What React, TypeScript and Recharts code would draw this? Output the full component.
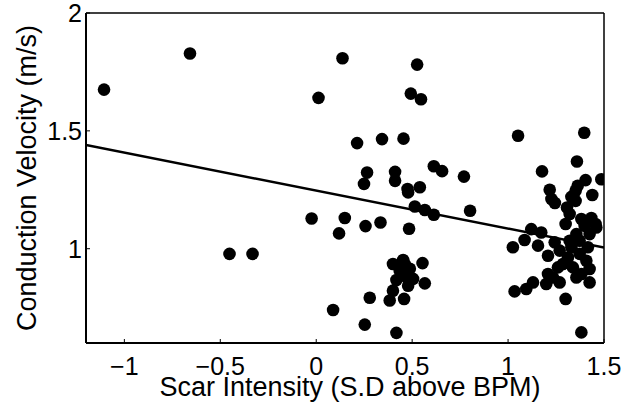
import React from 'react'
import {
  ScatterChart,
  Scatter,
  XAxis,
  YAxis,
  ZAxis
} from 'recharts'

// scar intensity (S.D above BPM) for each site
const scarIntensity = [
  -1.106, -0.658, -0.452, -0.332, 0.012, 0.137, 0.526, 0.493, 0.546, 0.213,
  0.343, 0.455, 1.052, 1.397, 0.265, 0.249, 0.411, 0.411, 0.476, 0.479,
  0.54, 0.613, 0.656, 0.77, -0.024, 0.149, 0.119, 0.257, 0.335, 0.484,
  0.514, 0.566, 0.613, 0.802, 0.4, 0.453, 0.461, 0.554, 0.418, 0.47,
  0.505, 0.479, 0.566, 0.4, 0.383, 0.458, 0.279, 0.088, 0.253, 0.418,
  0.435, 0.488,
  1.177, 1.359, 1.486, 1.404, 1.363, 1.352, 1.439, 1.217, 1.226, 1.244,
  1.33, 1.352, 1.307, 1.321, 1.382, 1.434, 1.456, 1.3, 1.121, 1.173,
  1.086, 1.025, 1.156, 1.208, 1.243, 1.269, 1.356, 1.425, 1.33, 1.373,
  1.408, 1.338, 1.286, 1.382, 1.425, 1.356, 1.416, 1.425, 1.46, 1.26,
  1.312, 1.034, 1.095, 1.13, 1.199, 1.208, 1.234, 1.269, 1.3, 1.382,
  1.373, 1.321, 1.399
]

// conduction velocity (m/s) for each site
const conductionVelocity = [
  1.675, 1.828, 0.978, 0.978, 1.64, 1.808, 1.781, 1.658, 1.634, 1.448,
  1.465, 1.467, 1.479, 1.492, 1.323, 1.275, 1.326, 1.288, 1.253, 1.239,
  1.261, 1.35, 1.329, 1.306, 1.128, 1.13, 1.065, 1.096, 1.111, 1.085,
  1.179, 1.164, 1.144, 1.161, 0.935, 0.952, 0.935, 0.939, 0.867, 0.881,
  0.872, 0.843, 0.853, 0.822, 0.78, 0.787, 0.792, 0.74, 0.678, 0.643,
  0.907, 0.915,
  1.328, 1.37, 1.295, 1.291, 1.267, 1.246, 1.228, 1.25, 1.211, 1.194,
  1.22, 1.203, 1.175, 1.147, 1.126, 1.13, 1.105, 1.105, 1.083, 1.069,
  1.037, 1.006, 1.013, 0.97, 1.027, 0.992, 1.062, 1.062, 1.006, 0.978,
  0.949, 0.921, 0.935, 0.893, 0.857, 0.878, 1.006, 0.914, 1.09, 0.921,
  0.963, 0.819, 0.829, 0.857, 0.85, 0.893, 0.878, 0.857, 0.787, 0.645,
  1.034, 1.034, 1.097
]

// least squares fit, end points
const fitX = [-1.2, 1.5]
const fitY = [1.44, 1.005]

const xTicks = [-1, -0.5, 0, 0.5, 1, 1.5]
const yTicks = [1, 1.5, 2]

const points = scarIntensity.map((x, i) => ({ x, y: conductionVelocity[i] }))
const fitLine = fitX.map((x, i) => ({ x, y: fitY[i] }))

const font = '"Liberation Sans", Arial, Helvetica, sans-serif'
const titleStyle = { fill: '#000', fontSize: 27, fontFamily: font }
const fmt = (v: number) => String(v).replace('-', '\u2212')

const XTick = (props: any) => (
  <text x={props.x} y={props.y} dy="0.71em" textAnchor="middle" fill="#000" fontSize={25} fontFamily={font}>
    {fmt(props.payload.value)}
  </text>
)

const YTick = (props: any) => (
  <text x={props.x} y={props.y} dy="0.355em" textAnchor="end" fill="#000" fontSize={25} fontFamily={font}>
    {fmt(props.payload.value)}
  </text>
)

const Dot = (props: any) => <circle cx={props.cx} cy={props.cy} r={6.3} fill="#000" />

const App = () => {
  return (
    <div style={{ position: 'fixed', left: 0, top: 0, background: '#fff', fontFamily: font }}>
      <ScatterChart
        width={639}
        height={406}
        margin={{ top: 12, right: 34, bottom: 0, left: 0 }}
      >
        <XAxis
          type="number"
          dataKey="x"
          xAxisId="b"
          domain={[-1.2, 1.5]}
          ticks={xTicks}
          allowDataOverflow
          height={63}
          tickSize={-4}
          tickMargin={18}
          tick={<XTick />}
          axisLine={{ stroke: '#000', strokeWidth: 2 }}
          tickLine={{ stroke: '#000', strokeWidth: 1 }}
          label={{
            value: 'Scar Intensity (S.D above BPM)',
            position: 'insideBottom',
            offset: 10,
            dx: 5,
            fontSize: 27,
            style: titleStyle
          }}
        />
        <XAxis
          type="number"
          dataKey="x"
          xAxisId="t"
          orientation="top"
          domain={[-1.2, 1.5]}
          ticks={xTicks}
          allowDataOverflow
          height={1}
          tickSize={-4}
          tick={false}
          axisLine={{ stroke: '#000', strokeWidth: 1.5 }}
          tickLine={{ stroke: '#000', strokeWidth: 1 }}
        />
        <YAxis
          type="number"
          dataKey="y"
          yAxisId="l"
          domain={[0.6, 2]}
          ticks={yTicks}
          allowDataOverflow
          width={86}
          tickSize={-4}
          tickMargin={8}
          tick={<YTick />}
          axisLine={{ stroke: '#000', strokeWidth: 2 }}
          tickLine={{ stroke: '#000', strokeWidth: 1 }}
          label={{
            value: 'Conduction Velocity (m/s)',
            angle: -90,
            position: 'insideLeft',
            offset: 26,
            fontSize: 27,
            style: { ...titleStyle, textAnchor: 'middle' }
          }}
        />
        <YAxis
          type="number"
          dataKey="y"
          yAxisId="r"
          orientation="right"
          domain={[0.6, 2]}
          ticks={yTicks}
          allowDataOverflow
          width={1}
          tickSize={-4}
          tick={false}
          axisLine={{ stroke: '#000', strokeWidth: 1.5 }}
          tickLine={{ stroke: '#000', strokeWidth: 1 }}
        />
        <ZAxis range={[100, 100]} />
        <Scatter
          data={fitLine}
          xAxisId="t"
          yAxisId="r"
          shape={() => null}
          isAnimationActive={false}
        />
        <Scatter
          data={fitLine}
          xAxisId="b"
          yAxisId="l"
          line={{ stroke: '#000', strokeWidth: 2.5 }}
          lineType="joint"
          shape={() => null}
          isAnimationActive={false}
        />
        <Scatter
          data={points}
          xAxisId="b"
          yAxisId="l"
          shape={Dot}
          isAnimationActive={false}
        />
      </ScatterChart>
    </div>
  )
}

export default App
